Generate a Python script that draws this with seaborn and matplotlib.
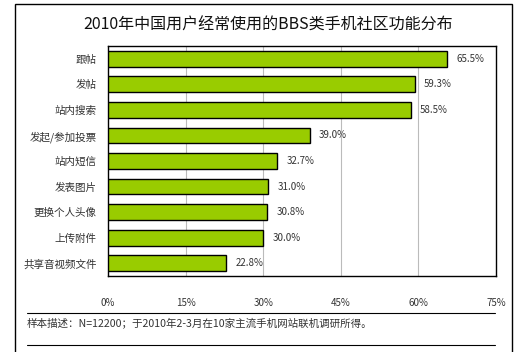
import matplotlib
matplotlib.use("Agg")
import matplotlib.pyplot as plt
import seaborn as sns
import pandas as pd
from matplotlib.patches import Rectangle
from matplotlib.lines import Line2D

categories = ["跟帖", "发帖", "站内搜索", "发起/参加投票", "站内短信", "发表图片", "更换个人头像", "上传附件", "共享音视频文件"]
values = [65.5, 59.3, 58.5, 39.0, 32.7, 31.0, 30.8, 30.0, 22.8]
xticks = [0, 15, 30, 45, 60, 75]
title = "2010年中国用户经常使用的BBS类手机社区功能分布"
note = "样本描述：N=12200；于2010年2-3月在10家主流手机网站联机调研所得。"

sns.set_style("white")
plt.rcParams['font.family'] = ['Noto Sans CJK SC', 'DejaVu Sans']

df = pd.DataFrame({"cat": categories, "val": values})

fig = plt.figure(figsize=(5.27, 3.52), dpi=100)
ax = fig.add_axes([108/527, 1-276/352, 388/527, 230/352])
sns.barplot(data=df, x="val", y="cat", orient="h", color="#99CC00", saturation=1,
            edgecolor="black", linewidth=1.0, width=0.62, ax=ax, zorder=3)
ax.set_xlim(0, 75)
ax.set_ylim(8.5, -0.5)
ax.set_xticks(xticks)
ax.set_xticklabels([f"{t}%" for t in xticks], fontsize=7, color="#333333")
ax.tick_params(axis='x', length=0, pad=16)
ax.tick_params(axis='y', length=0, pad=8, labelsize=7.6, labelcolor="#333333")
ax.set_xlabel("")
ax.set_ylabel("")
for s in ax.spines.values():
    s.set_color("black")
    s.set_linewidth(1.0)
for t in xticks[1:-1]:
    ax.axvline(t, color="#BBBBBB", linewidth=0.8, zorder=1)
for i, v in enumerate(values):
    ax.text(v + 1.8, i, f"{v:.1f}%", va="center", ha="left", fontsize=7, color="#333333")

fig.text(268/527, 1-25/352, title, ha="center", va="center", fontsize=11.5, fontweight="medium", color="#111111")
fig.text(27/527, 1-323/352, note, ha="left", va="center", fontsize=7.6, color="#333333")
fig.add_artist(Line2D([27/527, 495/527], [1-313/352, 1-313/352], color="black", linewidth=0.8))
fig.add_artist(Line2D([27/527, 495/527], [1-345/352, 1-345/352], color="black", linewidth=0.8))
fig.add_artist(Rectangle((15/527, -0.1), 497/527, 1.1 - 4/352, fill=False, edgecolor="black", linewidth=1.0, transform=fig.transFigure))

fig.savefig("out.png", dpi=100)
